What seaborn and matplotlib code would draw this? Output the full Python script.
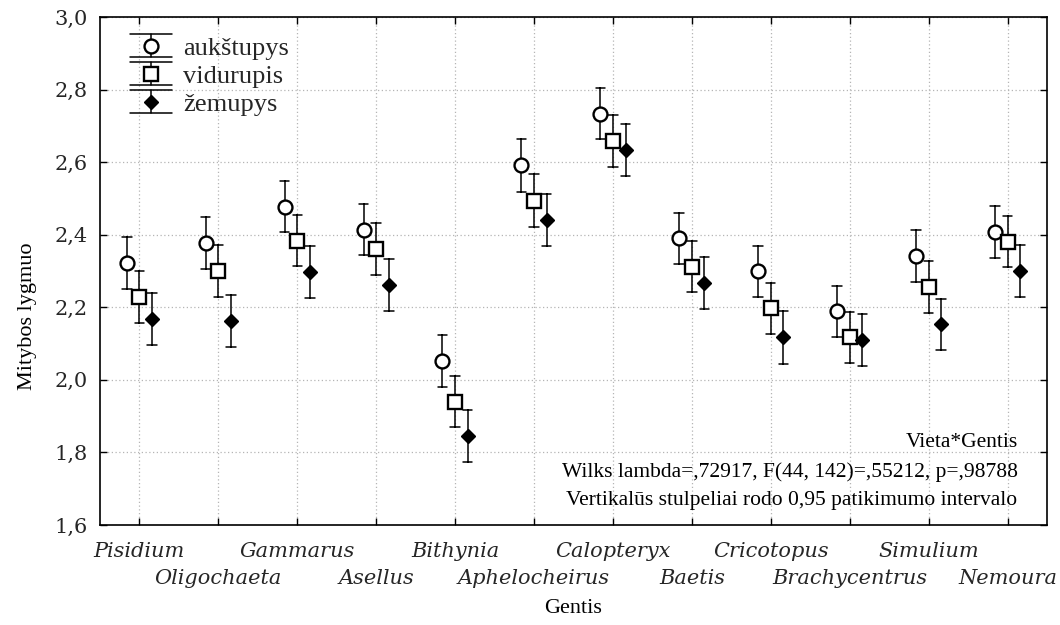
import numpy as np
import pandas as pd
import matplotlib
matplotlib.use("Agg")
import matplotlib.pyplot as plt
import seaborn as sns
from matplotlib.legend_handler import HandlerBase
from matplotlib.lines import Line2D

genera = ["Pisidium", "Oligochaeta", "Gammarus", "Asellus", "Bithynia", "Aphelocheirus",
          "Calopteryx", "Baetis", "Cricotopus", "Brachycentrus", "Simulium", "Nemoura"]
sites = ["aukštupys", "vidurupis", "žemupys"]

mean_aukstupys = [2.322, 2.378, 2.477, 2.414, 2.052, 2.592, 2.734, 2.390, 2.299, 2.189, 2.342, 2.408]
mean_vidurupis = [2.228, 2.300, 2.384, 2.360, 1.940, 2.494, 2.658, 2.312, 2.197, 2.117, 2.255, 2.381]
mean_zemupys = [2.167, 2.163, 2.298, 2.262, 1.845, 2.441, 2.633, 2.266, 2.117, 2.109, 2.153, 2.299]

ci_aukstupys = [0.071, 0.072, 0.070, 0.071, 0.072, 0.073, 0.071, 0.071, 0.071, 0.071, 0.072, 0.071]
ci_vidurupis = [0.072, 0.071, 0.071, 0.071, 0.071, 0.072, 0.071, 0.071, 0.071, 0.071, 0.072, 0.071]
ci_zemupys = [0.072, 0.072, 0.072, 0.072, 0.072, 0.071, 0.072, 0.072, 0.072, 0.072, 0.071, 0.072]

ytick_values = [1.6, 1.8, 2.0, 2.2, 2.4, 2.6, 2.8, 3.0]
ytick_labels = ["1,6", "1,8", "2,0", "2,2", "2,4", "2,6", "2,8", "3,0"]

stats_lines = ["Vieta*Gentis",
               "Wilks lambda=,72917, F(44, 142)=,55212, p=,98788",
               "Vertikalūs stulpeliai rodo 0,95 patikimumo intervalo"]

# Build a long table: each (genus, site) cell holds the two CI ends, whose mean is the point value
rows = []
for site, means, cis in zip(sites, [mean_aukstupys, mean_vidurupis, mean_zemupys],
                            [ci_aukstupys, ci_vidurupis, ci_zemupys]):
    for g, m, h in zip(genera, means, cis):
        rows.append({"Gentis": g, "Vieta": site, "value": m - h})
        rows.append({"Gentis": g, "Vieta": site, "value": m + h})
df = pd.DataFrame(rows)

sns.set_theme(style="ticks")
plt.rcParams["font.family"] = ["Liberation Serif", "DejaVu Serif"]

fig = plt.figure(figsize=(10.6, 6.25), dpi=100)
ax = fig.add_axes([0.0943, 0.16, 0.8934, 0.8128])

sns.pointplot(data=df, x="Gentis", y="value", hue="Vieta", order=genera, hue_order=sites,
              estimator="mean", errorbar=lambda x: (x.min(), x.max()),
              dodge=0.32, markers=["o", "s", "D"], linestyle="none",
              palette=["black", "black", "black"], capsize=0.12,
              err_kws={"linewidth": 1.1, "color": "black"}, legend=False, ax=ax)

for line in ax.lines:
    mk = line.get_marker()
    if mk in ("o", "s"):
        line.set_markerfacecolor("white")
        line.set_markeredgecolor("black")
        line.set_markersize(10)
        line.set_markeredgewidth(1.7)
        line.set_zorder(5)
    elif mk == "D":
        line.set_markerfacecolor("black")
        line.set_markeredgecolor("black")
        line.set_markersize(7.5)
        line.set_markeredgewidth(1.0)
        line.set_zorder(5)

ax.set_xlim(-0.5, len(genera) - 0.5)
ax.set_ylim(1.6, 3.0)
ax.set_yticks(ytick_values)
ax.set_yticklabels(ytick_labels, fontfamily="DejaVu Serif", fontsize=15)
ax.set_xticks(range(len(genera)))
ax.set_xticklabels(genera, fontfamily="DejaVu Serif", fontstyle="italic", fontsize=15)
ax.tick_params(direction="in", length=5, width=1.0, top=True, right=True, color="black")
ax.tick_params(axis="y", pad=9)
ax.tick_params(axis="x", pad=12)
for i, tick in enumerate(ax.xaxis.get_major_ticks()):
    if i % 2 == 1:
        tick.set_pad(31.5)
ax.grid(True, linestyle=(0, (1, 2)), color="#b5b5b5", linewidth=0.9)
ax.set_axisbelow(True)
for sp in ax.spines.values():
    sp.set_color("black")
    sp.set_linewidth(1.2)

ax.set_xlabel("Gentis", fontsize=16, color="black")
ax.xaxis.set_label_coords(0.5, -0.146)
ax.set_ylabel("Mitybos lygmuo", fontsize=16, color="black")
ax.yaxis.set_label_coords(-0.066, 0.41)

ys = [0.1535, 0.0945, 0.039]
for txt, y in zip(stats_lines, ys):
    ax.text(0.969, y, txt, transform=ax.transAxes, ha="right", va="baseline",
            fontsize=15.5, color="black")


class ErrorbarHandler(HandlerBase):
    def __init__(self, marker, face, ms, mew, half):
        super().__init__()
        self.marker, self.face, self.ms, self.mew, self.half = marker, face, ms, mew, half

    def create_artists(self, legend, orig_handle, xdescent, ydescent, width, height,
                       fontsize, trans):
        cx = -xdescent + width / 2
        cy = -ydescent + height / 2
        h = self.half
        arts = [
            Line2D([cx, cx], [cy - h, cy + h], color="black", lw=1.1),
            Line2D([-xdescent, -xdescent + width], [cy + h, cy + h], color="black", lw=1.1),
            Line2D([-xdescent, -xdescent + width], [cy - h, cy - h], color="black", lw=1.1),
            Line2D([cx], [cy], marker=self.marker, markersize=self.ms, markerfacecolor=self.face,
                   markeredgecolor="black", markeredgewidth=self.mew, linestyle="none"),
        ]
        for a in arts:
            a.set_transform(trans)
        return arts


handles = [Line2D([], []) for _ in sites]
hmap = {
    handles[0]: ErrorbarHandler("o", "white", 10, 1.7, 8.3),
    handles[1]: ErrorbarHandler("s", "white", 10, 1.7, 8.3),
    handles[2]: ErrorbarHandler("D", "black", 7.5, 1.0, 8.3),
}
ax.legend(handles, sites, handler_map=hmap, loc="upper left", bbox_to_anchor=(0.032, 0.962),
          frameon=False, fontsize=19, handlelength=1.58, handleheight=0.75,
          handletextpad=0.42, labelspacing=0.15, borderpad=0, borderaxespad=0)

fig.savefig("out.png", dpi=100)
